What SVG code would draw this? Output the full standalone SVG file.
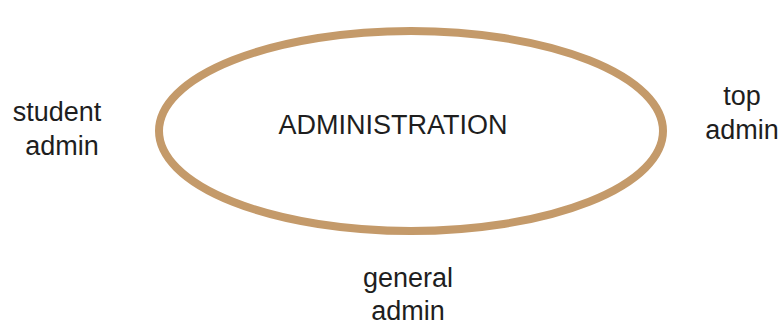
<svg xmlns="http://www.w3.org/2000/svg" width="783" height="327" viewBox="0 0 783 327">
  <style>
    .lbl { font-family: "Liberation Sans", Arial, sans-serif; font-size: 27px; fill: #1e1e1e; text-anchor: middle; }
    .ring { fill: #ffffff; stroke: #c49a6a; stroke-width: 8; }
  </style>
  <rect width="783" height="327" fill="#ffffff"/>
  <g id="administration">
    <ellipse class="ring" cx="411" cy="131" rx="252" ry="100"/>
    <text class="lbl" x="393" y="134">ADMINISTRATION</text>
  </g>
  <g id="student-admin">
    <text class="lbl" x="57" y="121">student</text>
    <text class="lbl" x="62" y="155">admin</text>
  </g>
  <g id="top-admin">
    <text class="lbl" x="742" y="105">top</text>
    <text class="lbl" x="742" y="139">admin</text>
  </g>
  <g id="general-admin">
    <text class="lbl" x="408" y="287">general</text>
    <text class="lbl" x="408" y="320">admin</text>
  </g>
  <g id="connectors"></g>
</svg>
